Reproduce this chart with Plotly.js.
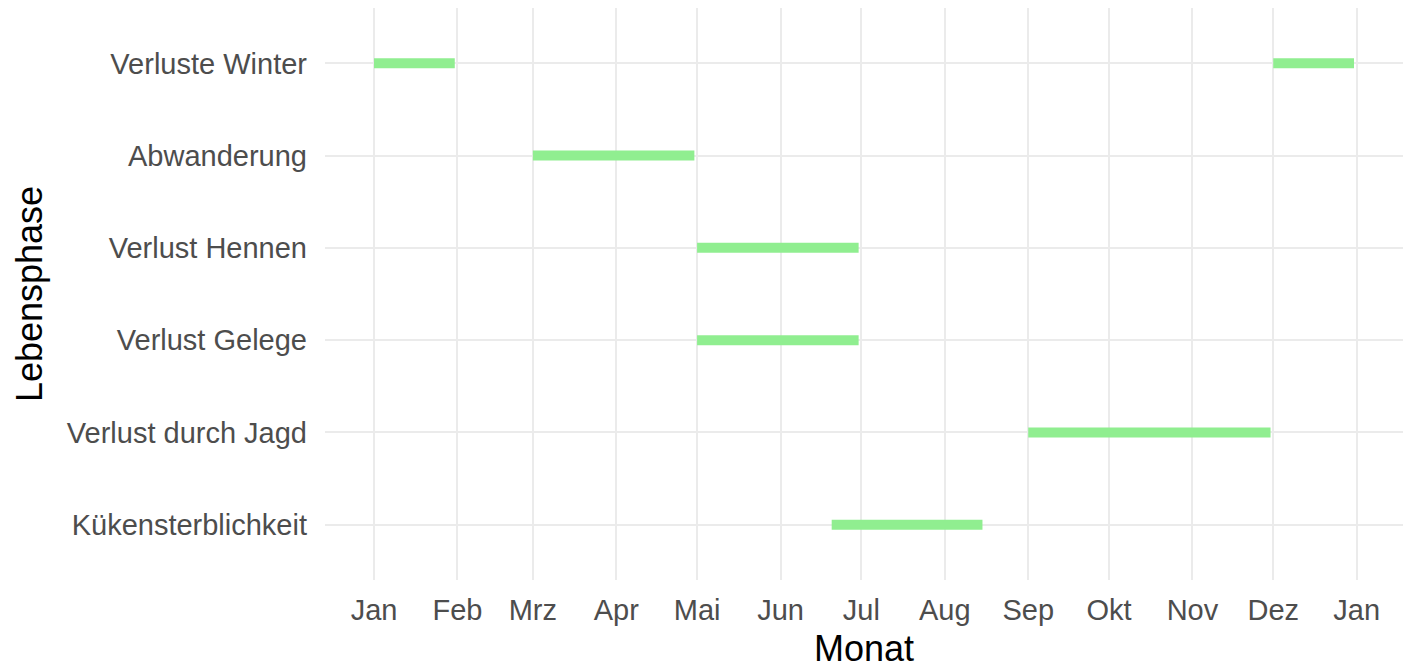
<!DOCTYPE html>
<html>
<head>
<meta charset="utf-8">
<script src="https://cdn.plot.ly/plotly-3.0.1.min.js"></script>
<style>html,body{margin:0;padding:0;background:#fff;}#chart{width:1414px;height:669px;}</style>
</head>
<body>
<div id="chart"></div>
<script>
// Categories (bottom to top)
const categories = ["Kükensterblichkeit", "Verlust durch Jagd", "Verlust Gelege", "Verlust Hennen", "Abwanderung", "Verluste Winter"];
// Segments
const segPhase = ["Verluste Winter", "Verluste Winter", "Abwanderung", "Verlust Hennen", "Verlust Gelege", "Verlust durch Jagd", "Kükensterblichkeit"];
const segStart = ["2023-01-01", "2023-12-01", "2023-03-01", "2023-05-01", "2023-05-01", "2023-09-01", "2023-06-20"];
const segEnd   = ["2023-01-31", "2023-12-31", "2023-04-30", "2023-06-30", "2023-06-30", "2023-11-30", "2023-08-15"];
// Tick labels
const tickDates = ["2023-01-01","2023-02-01","2023-03-01","2023-04-01","2023-05-01","2023-06-01","2023-07-01","2023-08-01","2023-09-01","2023-10-01","2023-11-01","2023-12-01","2024-01-01"];
const tickLabels = ["Jan","Feb","Mrz","Apr","Mai","Jun","Jul","Aug","Sep","Okt","Nov","Dez","Jan"];

const traces = segPhase.map((p, i) => ({
  type: "scatter",
  mode: "lines",
  x: [segStart[i], segEnd[i]],
  y: [p, p],
  line: {color: "#90EE90", width: 10},
  hoverinfo: "x+y",
  showlegend: false
}));

const layout = {
  width: 1414,
  height: 669,
  margin: {l: 325, r: 11, t: 8, b: 89},
  paper_bgcolor: "#ffffff",
  plot_bgcolor: "#ffffff",
  font: {family: "Liberation Sans, Arial, sans-serif", color: "#4D4D4D"},
  showlegend: false,
  xaxis: {
    type: "date",
    range: ["2022-12-13 19:12", "2024-01-18 04:48"],
    tickmode: "array",
    tickvals: tickDates,
    ticktext: tickLabels,
    showgrid: true,
    gridcolor: "#EBEBEB",
    gridwidth: 2,
    zeroline: false,
    showline: false,
    ticks: "",
    tickfont: {size: 29, color: "#4D4D4D"},
    ticklabelstandoff: 10,
    automargin: false,
    title: {text: "Monat", font: {size: 36, color: "#000000"}, standoff: 11}
  },
  yaxis: {
    type: "category",
    categoryorder: "array",
    categoryarray: categories,
    range: [-0.6, 5.6],
    showgrid: true,
    gridcolor: "#EBEBEB",
    gridwidth: 2,
    zeroline: false,
    showline: false,
    ticks: "",
    tickfont: {size: 29, color: "#4D4D4D"},
    ticklabelstandoff: 17,
    automargin: false,
    title: {text: "Lebensphase", font: {size: 36, color: "#000000"}, standoff: 13}
  }
};

Plotly.newPlot("chart", traces, layout, {displayModeBar: false, staticPlot: true});
</script>
</body>
</html>
